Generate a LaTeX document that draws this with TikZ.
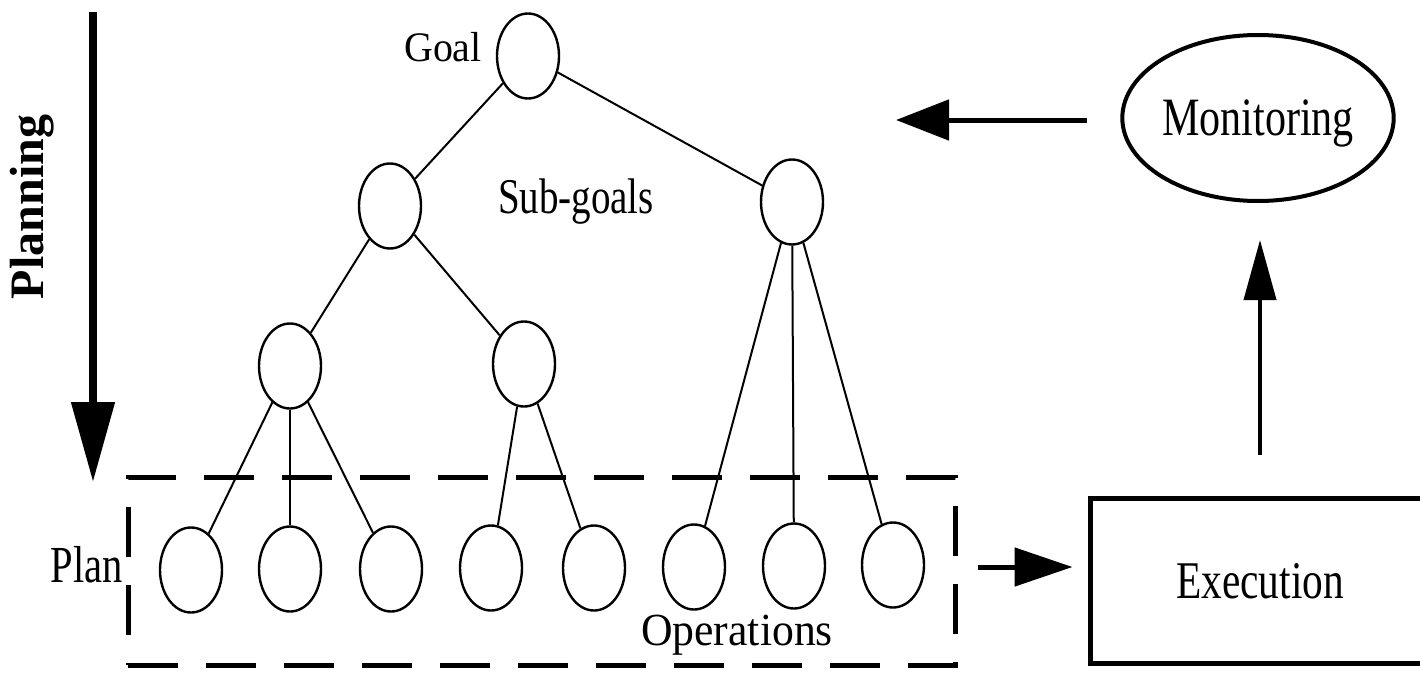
\documentclass[tikz,border=0pt]{standalone}
\usepackage{fontspec}
\setmainfont{Liberation Serif}
\newfontfamily\condfont[FakeStretch=0.78]{Liberation Serif}
\newfontfamily\slimfont[FakeStretch=0.95]{Liberation Serif}
\usetikzlibrary{shapes.geometric,arrows.meta}
\begin{document}
\begin{tikzpicture}[x=1pt,y=-1pt,
  tnode/.style={ellipse, draw, line width=2.4pt, minimum width=62pt, minimum height=85pt, inner sep=0pt},
  tedge/.style={line width=2pt},
  lbl/.style={inner sep=0pt, anchor=base},
  condtxt/.style={font=\condfont\fontsize{#1}{#1}\selectfont},
  slimtxt/.style={font=\slimfont\fontsize{#1}{#1}\selectfont},
  flowarrow/.style={line width=5pt, -{Triangle[length=55pt,width=40pt]}},
]
\useasboundingbox (0,0) rectangle (1420,677);

% tree nodes
\node[tnode] (goal) at (528,56) {};
\node[tnode] (s1) at (390,206) {};
\node[tnode] (s2) at (792,202) {};
\node[tnode] (a) at (290,366) {};
\node[tnode] (b) at (524,364) {};
\node[tnode] (l1) at (191,570) {};
\node[tnode] (l2) at (290,569) {};
\node[tnode] (l3) at (391,569) {};
\node[tnode] (l4) at (491,568) {};
\node[tnode] (l5) at (594,568) {};
\node[tnode] (l6) at (694,567) {};
\node[tnode] (l7) at (794,566) {};
\node[tnode] (l8) at (893,565) {};

% tree edges
\draw[tedge] (goal) -- (s1);
\draw[tedge] (goal) -- (s2);
\draw[tedge] (s1) -- (a);
\draw[tedge] (s1) -- (b);
\draw[tedge] (a) -- (l1);
\draw[tedge] (a) -- (l2);
\draw[tedge] (a) -- (l3);
\draw[tedge] (b) -- (l4);
\draw[tedge] (b) -- (l5);
\draw[tedge] (s2) -- (l6);
\draw[tedge] (s2) -- (l7);
\draw[tedge] (s2) -- (l8);

% plan box
\node[draw, line width=5pt, dash pattern=on 50pt off 28pt, minimum width=827pt, minimum height=188pt, inner sep=0pt] (planbox) at (541.5,571) {};

% labels
\node[lbl, slimtxt=42] (goallbl) at (443,62) {Goal};
\node[lbl, condtxt=50] (sublbl) at (576,213) {Sub-goals};
\node[lbl, condtxt=52] (planlbl) at (87,582) {Plan};
\node[lbl, slimtxt=46] (oplbl) at (737,645) {Operations};
\node[lbl, rotate=90, font=\bfseries\fontsize{48}{48}\selectfont] (planninglbl) at (43,207) {Planning};

% planning arrow
\coordinate (ptop) at (93,12);
\coordinate (pbot) at (93,482);
\draw[line width=8pt, -{Triangle[length=80pt,width=42pt]}] (ptop) -- (pbot);

% monitoring and execution
\node[ellipse, draw, line width=4pt, minimum width=261pt, minimum height=166pt, inner sep=0pt, text depth=0pt, condtxt=54] (mon) at (1258,118) {Monitoring};
\node[draw, line width=5pt, minimum width=340pt, minimum height=165pt, inner sep=0pt, condtxt=53] (exec) at (1260,581) {Execution};

\coordinate (mtip) at (896,120);
\draw[flowarrow, -{Triangle[length=53pt,width=40pt]}, shorten <=33pt] (mon.west |- mtip) -- (mtip);
\draw[flowarrow, -{Triangle[length=58pt,width=38pt]}, shorten <=20pt, shorten >=15pt] ([yshift=4pt]planbox.east) -- ([yshift=4pt]planbox.east -| exec.west);
\draw[line width=4pt, -{Triangle[length=60pt,width=32pt]}, shorten <=41pt, shorten >=37pt] (exec.north) -- (exec.north |- mon.south);
\end{tikzpicture}
\end{document}
